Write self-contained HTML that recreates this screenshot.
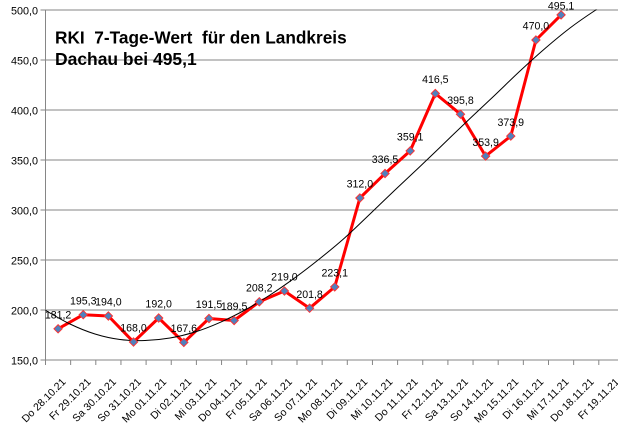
<!DOCTYPE html>
<html>
<head>
<meta charset="utf-8">
<style>
html,body{margin:0;padding:0;background:#fff;}
svg{display:block;}
text{font-family:"Liberation Sans",Arial,sans-serif;fill:#000;}
</style>
</head>
<body>
<svg width="618" height="424" viewBox="0 0 618 424" xmlns="http://www.w3.org/2000/svg">
<defs>
<clipPath id="plot"><rect x="45.5" y="9.5" width="580" height="351"/></clipPath>
</defs>
<rect width="618" height="424" fill="#fff"/>
<!-- gridlines -->
<g stroke="#868686" stroke-width="1">
<line x1="40.5" y1="10" x2="618" y2="10"/>
<line x1="40.5" y1="60" x2="618" y2="60"/>
<line x1="40.5" y1="110" x2="618" y2="110"/>
<line x1="40.5" y1="160" x2="618" y2="160"/>
<line x1="40.5" y1="210" x2="618" y2="210"/>
<line x1="40.5" y1="260" x2="618" y2="260"/>
<line x1="40.5" y1="310" x2="618" y2="310"/>
<line x1="40.5" y1="360" x2="618" y2="360"/>
<line x1="45.5" y1="10" x2="45.5" y2="360"/>
<path d="M45.5 360v5M70.65 360v5M95.8 360v5M120.95 360v5M146.1 360v5M171.25 360v5M196.4 360v5M221.55 360v5M246.7 360v5M271.85 360v5M297 360v5M322.15 360v5M347.3 360v5M372.45 360v5M397.6 360v5M422.75 360v5M447.9 360v5M473.05 360v5M498.2 360v5M523.35 360v5M548.5 360v5M573.65 360v5M598.8 360v5"/>
</g>
<!-- y labels -->
<g font-size="10.8" text-anchor="end">
<text x="38" y="14.5">500,0</text>
<text x="38" y="64.5">450,0</text>
<text x="38" y="114.5">400,0</text>
<text x="38" y="164.5">350,0</text>
<text x="38" y="214.5">300,0</text>
<text x="38" y="264.5">250,0</text>
<text x="38" y="314.5">200,0</text>
<text x="38" y="364.5">150,0</text>
</g>
<!-- x labels -->
<g font-size="10.5" text-anchor="end">
<text transform="translate(66.4,382.5) rotate(-45)">Do 28.10.21</text>
<text transform="translate(91.5,382.5) rotate(-45)">Fr 29.10.21</text>
<text transform="translate(116.7,382.5) rotate(-45)">Sa 30.10.21</text>
<text transform="translate(141.8,382.5) rotate(-45)">So 31.10.21</text>
<text transform="translate(167,382.5) rotate(-45)">Mo 01.11.21</text>
<text transform="translate(192.1,382.5) rotate(-45)">Di 02.11.21</text>
<text transform="translate(217.3,382.5) rotate(-45)">Mi 03.11.21</text>
<text transform="translate(242.4,382.5) rotate(-45)">Do 04.11.21</text>
<text transform="translate(267.6,382.5) rotate(-45)">Fr 05.11.21</text>
<text transform="translate(292.7,382.5) rotate(-45)">Sa 06.11.21</text>
<text transform="translate(317.9,382.5) rotate(-45)">So 07.11.21</text>
<text transform="translate(343,382.5) rotate(-45)">Mo 08.11.21</text>
<text transform="translate(368.2,382.5) rotate(-45)">Di 09.11.21</text>
<text transform="translate(393.3,382.5) rotate(-45)">Mi 10.11.21</text>
<text transform="translate(418.5,382.5) rotate(-45)">Do 11.11.21</text>
<text transform="translate(443.6,382.5) rotate(-45)">Fr 12.11.21</text>
<text transform="translate(468.8,382.5) rotate(-45)">Sa 13.11.21</text>
<text transform="translate(493.9,382.5) rotate(-45)">So 14.11.21</text>
<text transform="translate(519.1,382.5) rotate(-45)">Mo 15.11.21</text>
<text transform="translate(544.2,382.5) rotate(-45)">Di 16.11.21</text>
<text transform="translate(569.4,382.5) rotate(-45)">Mi 17.11.21</text>
<text transform="translate(594.5,382.5) rotate(-45)">Do 18.11.21</text>
<text transform="translate(619.7,382.5) rotate(-45)">Fr 19.11.21</text>
</g>
<!-- series -->
<g clip-path="url(#plot)">
<polyline fill="none" stroke="#ff0000" stroke-width="3" stroke-linejoin="round" points="58.08,328.8 83.23,314.7 108.38,316 133.53,342 158.68,318 183.83,342.4 208.98,318.5 234.13,320.5 259.28,301.8 284.43,291 309.58,308.2 334.73,286.9 359.88,198 385.03,173.5 410.18,150.9 435.33,93.5 460.48,114.2 485.63,156.1 510.78,136.1 535.93,40 561.08,14.9"/>
<path fill="none" stroke="#000" stroke-width="1" d="M45,310 C53.33,315 61.67,320 70,324 C78.33,328 86.67,331.417 95,334 C103.33,336.583 111.67,338.417 120,339.5 C128.33,340.583 136.67,340.75 145,340.5 C153.33,340.25 161.67,339.417 170,338 C178.33,336.583 186.67,334.6 195,332 C203.33,329.4 211.67,326.067 220,322.4 C228.33,318.733 236.67,314.567 245,310 C253.33,305.433 261.67,300.383 270,295 C278.33,289.617 286.67,283.783 295,277.7 C303.33,271.617 311.67,265.183 320,258.5 C328.33,251.817 336.67,245.017 345,237.6 C353.33,230.183 361.67,221.933 370,214 C378.33,206.067 386.67,197.917 395,190 C403.33,182.083 411.67,174.417 420,166.5 C428.33,158.583 436.67,150.5 445,142.5 C453.33,134.5 461.67,126.417 470,118.5 C478.33,110.583 486.67,102.917 495,95 C503.33,87.083 511.67,78.75 520,71 C528.33,63.25 536.67,55.667 545,48.5 C553.33,41.333 561.67,34.333 570,28 C578.33,21.667 586.67,16 595,10.5 C603.33,5 611.67,-0.083 620,-5"/>
</g>
<g fill="#4f81bd" stroke="#ff3030" stroke-width="0.9">
<path d="M58.08 324.6l4.2 4.2-4.2 4.2-4.2-4.2z"/>
<path d="M83.23 310.5l4.2 4.2-4.2 4.2-4.2-4.2z"/>
<path d="M108.38 311.8l4.2 4.2-4.2 4.2-4.2-4.2z"/>
<path d="M133.53 337.8l4.2 4.2-4.2 4.2-4.2-4.2z"/>
<path d="M158.68 313.8l4.2 4.2-4.2 4.2-4.2-4.2z"/>
<path d="M183.83 338.2l4.2 4.2-4.2 4.2-4.2-4.2z"/>
<path d="M208.98 314.3l4.2 4.2-4.2 4.2-4.2-4.2z"/>
<path d="M234.13 316.3l4.2 4.2-4.2 4.2-4.2-4.2z"/>
<path d="M259.28 297.6l4.2 4.2-4.2 4.2-4.2-4.2z"/>
<path d="M284.43 286.8l4.2 4.2-4.2 4.2-4.2-4.2z"/>
<path d="M309.58 304l4.2 4.2-4.2 4.2-4.2-4.2z"/>
<path d="M334.73 282.7l4.2 4.2-4.2 4.2-4.2-4.2z"/>
<path d="M359.88 193.8l4.2 4.2-4.2 4.2-4.2-4.2z"/>
<path d="M385.03 169.3l4.2 4.2-4.2 4.2-4.2-4.2z"/>
<path d="M410.18 146.7l4.2 4.2-4.2 4.2-4.2-4.2z"/>
<path d="M435.33 89.3l4.2 4.2-4.2 4.2-4.2-4.2z"/>
<path d="M460.48 110l4.2 4.2-4.2 4.2-4.2-4.2z"/>
<path d="M485.63 151.9l4.2 4.2-4.2 4.2-4.2-4.2z"/>
<path d="M510.78 131.9l4.2 4.2-4.2 4.2-4.2-4.2z"/>
<path d="M535.93 35.8l4.2 4.2-4.2 4.2-4.2-4.2z"/>
<path d="M561.08 10.7l4.2 4.2-4.2 4.2-4.2-4.2z"/>
</g>
<!-- data labels -->
<g font-size="10.6" text-anchor="middle">
<text x="58.08" y="318.5">181,2</text>
<text x="83.23" y="304.4">195,3</text>
<text x="108.38" y="305.7">194,0</text>
<text x="133.53" y="331.7">168,0</text>
<text x="158.68" y="307.7">192,0</text>
<text x="183.83" y="332.1">167,6</text>
<text x="208.98" y="308.2">191,5</text>
<text x="234.13" y="310.2">189,5</text>
<text x="259.28" y="291.5">208,2</text>
<text x="284.43" y="280.7">219,0</text>
<text x="309.58" y="297.9">201,8</text>
<text x="334.73" y="276.6">223,1</text>
<text x="359.88" y="187.7">312,0</text>
<text x="385.03" y="163.2">336,5</text>
<text x="410.18" y="140.6">359,1</text>
<text x="435.33" y="83.2">416,5</text>
<text x="460.48" y="103.9">395,8</text>
<text x="485.63" y="145.8">353,9</text>
<text x="510.78" y="125.8">373,9</text>
<text x="535.93" y="29.7">470,0</text>
<text x="561.08" y="9.5">495,1</text>
</g>
<!-- title -->
<g font-size="17.3" font-weight="bold">
<text x="55" y="43.3" textLength="291.7" lengthAdjust="spacingAndGlyphs" xml:space="preserve">RKI  7-Tage-Wert  für den Landkreis</text>
<text x="55" y="65" textLength="141.7" lengthAdjust="spacingAndGlyphs">Dachau bei 495,1</text>
</g>
</svg>
</body>
</html>
